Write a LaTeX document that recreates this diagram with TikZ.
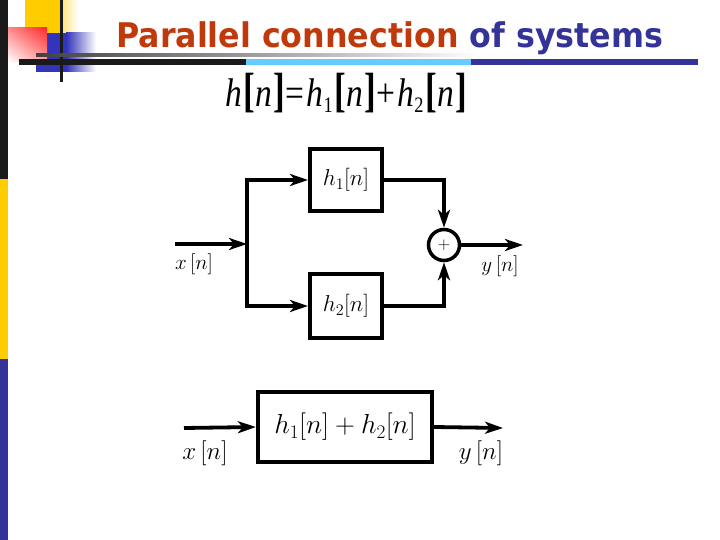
\RequirePackage{fix-cm}
\documentclass[tikz,border=0pt]{standalone}
\usepackage{fontspec}
\usepackage{graphicx}
\usetikzlibrary{arrows.meta,shadings}
\newfontfamily\titlefont{DejaVu Sans}
\newfontfamily\eqfont{Liberation Serif}
\definecolor{ttlred}{HTML}{C0390B}
\definecolor{ttlblue}{HTML}{333399}
\definecolor{baryellow}{HTML}{FFCC00}
\definecolor{barblue}{HTML}{333399}
\definecolor{sqblue}{HTML}{3333BB}
\definecolor{lightblue}{HTML}{66CCFF}
\definecolor{sqred}{HTML}{FF2A2A}
\definecolor{darkbar}{HTML}{1A1A1A}
\newcommand\eqbr[1]{\scalebox{1.05}[1.2]{\bfseries #1}}
\newcommand\eqsub[1]{\raisebox{-6pt}{\fontsize{22}{22}\selectfont #1}}
\begin{document}
\begin{tikzpicture}[x=1pt,y=-1pt,
  blk/.style={draw, line width=4pt, minimum width=72pt, minimum height=62pt, inner sep=0pt, font=\fontsize{23}{27}\selectfont},
  arr/.style={line width=3.8pt, -{Stealth[length=18pt,width=12pt,inset=5pt]}},
  lbl/.style={font=\fontsize{21}{25}\selectfont, inner sep=0pt}]
\useasboundingbox (0,0) rectangle (720,540);
\fill[white] (0,0) rectangle (720,540);
% left bar
\fill[darkbar] (0,0) rectangle (8,179);
\fill[baryellow] (0,179) rectangle (8,359);
\fill[barblue] (0,359) rectangle (8,540);
% decoration
\fill[baryellow] (25,0) rectangle (61,33);
\shade[left color=baryellow!55!white, right color=white] (61,0) rectangle (78,33);
\fill[sqblue] (36,33) rectangle (66,72);
\shade[left color=sqblue, right color=white] (66,33) rectangle (96,72);
\shade[upper right=sqred, upper left=sqred!55!white, lower right=sqred!45!white, lower left=white] (8,28) rectangle (47,62);
\fill[darkbar] (60,0) rectangle (63,82);
\shade[left color=black!75, right color=white] (36,54) rectangle (480,57);
\fill[darkbar] (19,59) rectangle (246,65);
\fill[lightblue] (246,59) rectangle (471,65);
\fill[barblue] (471,59) rectangle (698,65);
% title
\node[anchor=base west, inner sep=0pt] (title) at (116,48) {\resizebox{547pt}{\height}{\titlefont\bfseries\fontsize{34}{40}\selectfont\color{ttlred}Parallel connection \color{ttlblue}of systems}};
% equation
\node[anchor=base west, inner sep=0pt] (eq) at (225,107) {\resizebox{242pt}{\height}{\eqfont\fontsize{40}{46}\selectfont \textit{h}\kern2pt\eqbr{[}\textit{n}\kern2pt\eqbr{]}=\kern3pt\textit{h}\eqsub{1}\kern2pt\eqbr{[}\textit{n}\kern2pt\eqbr{]}+\kern3pt\textit{h}\eqsub{2}\kern2pt\eqbr{[}\textit{n}\kern2pt\eqbr{]}}};
% parallel diagram
\node[blk] (h1) at (346,180) {$h_1[n]$};
\node[blk, minimum height=64pt] (h2) at (346,306) {$h_2[n]$};
\node[draw, circle, line width=3.5pt, minimum size=31pt, inner sep=0pt, font=\fontsize{17}{20}\selectfont] (sum) at (444,245) {$+$};
\coordinate (xin) at (175,244);
\coordinate (jn) at (247,244);
\coordinate (yout) at (523,245);
\draw[arr] (xin) -- (jn);
\draw[arr] (jn) |- (h1.west);
\draw[arr] (jn) |- (h2.west);
\draw[arr] (h1.east) -| (sum.north);
\draw[arr] (h2.east) -| (sum.south);
\draw[arr] (sum.east) -- (yout);
\node[lbl] (xl) at (194,264) {$x\,[n]$};
\node[lbl] (yl) at (500,266) {$y\,[n]$};
% equivalent system
\node[draw, line width=4.3pt, minimum width=174pt, minimum height=70pt, inner sep=0pt, font=\fontsize{27.5}{32}\selectfont] (hs) at (345,427) {$h_1[n]+h_2[n]$};
\coordinate (xin2) at (184,428);
\coordinate (yout2) at (503,428);
\draw[arr] (xin2) -- (hs.west);
\draw[arr] (hs.east) -- (yout2);
\node[lbl, font=\fontsize{25}{29}\selectfont] (xl2) at (205,453) {$x\,[n]$};
\node[lbl, font=\fontsize{25}{29}\selectfont] (yl2) at (481,453) {$y\,[n]$};
\end{tikzpicture}
\end{document}
